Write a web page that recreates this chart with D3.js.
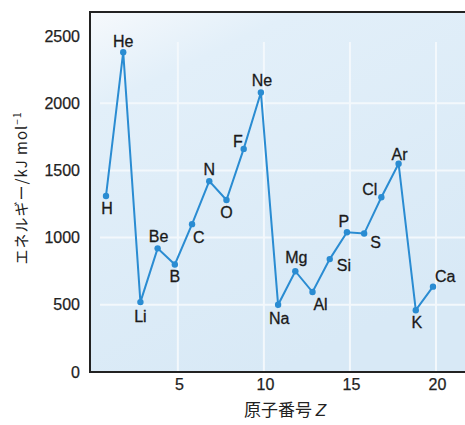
<!DOCTYPE html>
<html><head><meta charset="utf-8">
<script src="https://cdn.jsdelivr.net/npm/d3@7"></script>
<style>body{margin:0;background:#fff}svg{display:block}</style>
</head><body>
<script>
const elements = ["H","He","Li","Be","B","C","N","O","F","Ne","Na","Mg","Al","Si","P","S","Cl","Ar","K","Ca"];
const atomicNumbers = [1,2,3,4,5,6,7,8,9,10,11,12,13,14,15,16,17,18,19,20];
const energies = [1310,2380,520,920,800,1100,1420,1280,1660,2080,500,750,595,840,1040,1030,1300,1550,460,635];
const yTicks = [0,500,1000,1500,2000,2500];
const xTicks = [5,10,15,20];

// label placement (style): [anchor, dx, dy]
const labelStyle = {
 H:["middle",1,18], He:["middle",0,-5], Li:["middle",0,20], Be:["middle",1,-6], B:["middle",0,18],
 C:["start",1,19], N:["middle",0,-6], O:["middle",0,18], F:["end",-1,-2], Ne:["middle",1,-6],
 Na:["middle",1,19], Mg:["middle",1,-8], Al:["middle",8,18], Si:["start",7,12], P:["middle",-3,-5],
 S:["start",6,14], Cl:["end",-4,-2], Ar:["middle",1,-4], K:["middle",1,18], Ca:["start",2,-5]
};

const W=465,H=425;
const plotL=90, plotT=12, plotB=372;
const svg=d3.select("body").append("svg").attr("width",W).attr("height",H);
const x=d3.scaleLinear().domain([1,20]).range([106,433]);
const y=d3.scaleLinear().domain([0,2500]).range([plotB,36]);

const defs=svg.append("defs");
const g=defs.append("linearGradient").attr("id","bg").attr("x1","0").attr("y1","0").attr("x2","0.5").attr("y2","1");
g.append("stop").attr("offset","0").attr("stop-color","#f6f9fc");
g.append("stop").attr("offset","0.22").attr("stop-color","#e2eff9");
g.append("stop").attr("offset","1").attr("stop-color","#d8e9f6");

svg.append("rect").attr("x",plotL).attr("y",plotT).attr("width",W-plotL).attr("height",plotB-plotT).attr("fill","url(#bg)");

// grid
const grid=svg.append("g").attr("stroke","#f3f8fc").attr("stroke-width",2);
grid.selectAll("line.h").data(yTicks.filter(d=>d>0&&d<2500)).join("line")
 .attr("x1",plotL+10).attr("x2",W).attr("y1",d=>y(d)).attr("y2",d=>y(d));
grid.selectAll("line.v").data(xTicks).join("line")
 .attr("y1",plotT+30).attr("y2",plotB).attr("x1",d=>x(d)+3).attr("x2",d=>x(d)+3);

// axes
const ya=svg.append("g").attr("transform",`translate(${plotL},0)`)
 .call(d3.axisLeft(y).tickValues(yTicks).tickFormat(d3.format("d")).tickSize(0).tickPadding(10));
const xa=svg.append("g").attr("transform",`translate(0,${plotB})`)
 .call(d3.axisBottom(x).tickValues(xTicks).tickFormat(d3.format("d")).tickSize(0).tickPadding(7));
xa.selectAll("text").attr("dx",4);
[ya,xa].forEach(a=>{a.select(".domain").remove();a.selectAll("text").attr("font-family","Liberation Sans, Arial, sans-serif").attr("font-size",16).attr("fill","#222").attr("stroke","#222").attr("stroke-width",0.25);});

// frame
svg.append("path").attr("d",`M${W},${plotT}H${plotL}V${plotB}H${W}`).attr("fill","none").attr("stroke","#222").attr("stroke-width",2);

// line
const data=atomicNumbers.map((z,i)=>({z,e:energies[i],n:elements[i]}));
svg.append("path").datum(data).attr("fill","none").attr("stroke","#2a8cd2").attr("stroke-width",2)
 .attr("d",d3.line().x(d=>x(d.z)).y(d=>y(d.e)));
svg.selectAll("circle.pt").data(data).join("circle").attr("cx",d=>x(d.z)).attr("cy",d=>y(d.e)).attr("r",3.2).attr("fill","#2a8cd2");

svg.selectAll("text.lb").data(data).join("text")
 .attr("x",d=>x(d.z)+labelStyle[d.n][1]).attr("y",d=>y(d.e)+labelStyle[d.n][2])
 .attr("text-anchor",d=>labelStyle[d.n][0]).attr("font-family","Liberation Sans, Arial, sans-serif")
 .attr("font-size",16).attr("fill","#1a1a1a").attr("stroke","#1a1a1a").attr("stroke-width",0.3).text(d=>d.n);

// axis titles
svg.append("text").attr("transform","translate(27,188) rotate(-90)").attr("text-anchor","middle")
 .attr("font-family","Noto Sans CJK JP, sans-serif").attr("font-size",15).attr("letter-spacing",1).attr("fill","#222")
 .html('エネルギー/kJ mol<tspan dy="-6" font-size="10">−1</tspan>');
svg.append("text").attr("x",285).attr("y",416).attr("text-anchor","middle")
 .attr("font-family","Noto Sans CJK JP, sans-serif").attr("font-size",17).attr("fill","#222")
 .html('原子番号 <tspan font-style="italic" font-family="Liberation Sans, Arial, sans-serif">Z</tspan>');
</script>
</body></html>
